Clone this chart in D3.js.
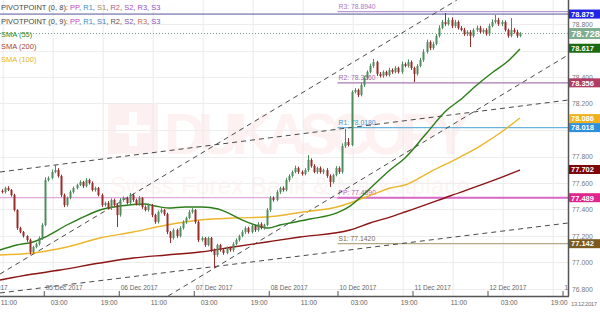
<!DOCTYPE html>
<html>
<head>
<meta charset="utf-8">
<script src="https://cdn.jsdelivr.net/npm/d3@7"></script>
<style>
  body { margin: 0; background: #fff; }
  svg { display: block; font-family: "Liberation Sans", Arial, sans-serif; }
</style>
</head>
<body>
<svg id="chart" width="600" height="320"></svg>
<script>
// hourly closes, USD/JPY-like series
const firstOpen = 77.540;
const closes = [
  77.532, 77.562, 77.547, 77.509, 77.396, 77.260, 77.230, 77.200, 77.170, 77.079,
  77.117, 77.140, 77.185, 77.283, 77.623, 77.638, 77.683, 77.698, 77.653, 77.509,
  77.434, 77.487, 77.532, 77.562, 77.585, 77.608, 77.577, 77.623, 77.600, 77.547,
  77.562, 77.509, 77.434, 77.449, 77.411, 77.472, 77.434, 77.358, 77.472, 77.487,
  77.449, 77.509, 77.472, 77.441, 77.487, 77.419, 77.396, 77.434, 77.358, 77.306,
  77.381, 77.396, 77.366, 77.230, 77.185, 77.245, 77.200, 77.260, 77.306, 77.336,
  77.381, 77.396, 77.306, 77.170, 77.185, 77.132, 77.185, 77.094, 77.057, 77.132,
  77.094, 77.072, 77.109, 77.094, 77.140, 77.170, 77.200, 77.230, 77.260, 77.230,
  77.275, 77.245, 77.291, 77.260, 77.283, 77.396, 77.487, 77.472, 77.532, 77.562,
  77.547, 77.623, 77.653, 77.683, 77.713, 77.683, 77.668, 77.698, 77.774, 77.728,
  77.683, 77.713, 77.683, 77.698, 77.653, 77.608, 77.660, 77.713, 77.683, 77.879,
  77.909, 77.887, 78.287, 78.302, 78.264, 78.340, 78.392, 78.438, 78.483, 78.513,
  78.423, 78.408, 78.438, 78.415, 78.453, 78.438, 78.468, 78.438, 78.498, 78.483,
  78.513, 78.468, 78.423, 78.483, 78.528, 78.589, 78.664, 78.619, 78.649, 78.710,
  78.770, 78.815, 78.800, 78.830, 78.785, 78.815, 78.770, 78.755, 78.725, 78.740,
  78.710, 78.755, 78.770, 78.740, 78.755, 78.725, 78.785, 78.815, 78.830, 78.800,
  78.815, 78.755, 78.710, 78.755, 78.740, 78.710, 78.728
];
// wick lengths above / below the body, in thousandths
const wickUp = [
  12, 10, 14, 8, 10, 6, 10, 8, 6, 10,
  8, 10, 12, 14, 20, 12, 18, 38, 14, 10,
  12, 10, 14, 12, 10, 12, 8, 14, 10, 12,
  10, 8, 12, 10, 14, 12, 10, 8, 14, 12,
  10, 16, 12, 10, 14, 8, 12, 10, 8, 10,
  12, 14, 8, 10, 8, 12, 10, 14, 12, 10,
  16, 14, 8, 10, 12, 8, 10, 8, 12, 10,
  8, 10, 12, 10, 14, 12, 10, 14, 12, 10,
  12, 10, 14, 12, 10, 14, 16, 12, 14, 10,
  12, 16, 14, 12, 18, 10, 12, 14, 37, 12,
  14, 10, 12, 10, 14, 12, 10, 14, 12, 20,
  100, 30, 12, 14, 10, 16, 14, 12, 18, 24,
  10, 14, 12, 10, 16, 12, 14, 10, 18, 12,
  20, 12, 10, 14, 16, 20, 18, 12, 16, 14,
  20, 16, 68, 18, 20, 16, 12, 14, 16, 12,
  14, 12, 18, 16, 12, 14, 18, 20, 38, 16,
  14, 12, 10, 90, 14, 16, 10
];
const wickDn = [
  10, 12, 8, 12, 10, 14, 10, 12, 14, 20,
  14, 10, 12, 14, 10, 12, 10, 8, 12, 14,
  16, 12, 10, 12, 10, 8, 14, 10, 12, 10,
  12, 10, 14, 12, 10, 14, 12, 90, 12, 14,
  10, 12, 14, 10, 12, 14, 10, 12, 16, 14,
  12, 10, 14, 16, 38, 12, 14, 10, 12, 14,
  10, 12, 14, 16, 12, 14, 10, 16, 99, 14,
  12, 14, 10, 12, 14, 10, 12, 10, 14, 12,
  10, 14, 12, 10, 12, 10, 14, 12, 10, 14,
  12, 10, 14, 12, 10, 14, 12, 10, 14, 12,
  10, 14, 12, 16, 14, 38, 12, 10, 14, 12,
  14, 12, 10, 12, 16, 10, 14, 12, 10, 14,
  16, 12, 14, 10, 12, 14, 10, 12, 14, 10,
  12, 14, 61, 12, 10, 14, 12, 16, 14, 10,
  12, 10, 14, 12, 16, 14, 12, 10, 14, 16,
  84, 12, 14, 10, 16, 12, 14, 10, 12, 14,
  16, 12, 14, 10, 12, 14, 10
];

// moving averages: [hour slot, value]
const sma55 = [
  [0, 77.094], [5.4, 77.132], [10.6, 77.155], [13.8, 77.185], [21.4, 77.283],
  [26.6, 77.343], [32, 77.396], [38.4, 77.426], [46.4, 77.442], [49.6, 77.426],
  [53.8, 77.411], [59.2, 77.419], [64.6, 77.419], [69.8, 77.404], [73, 77.374],
  [77.4, 77.321], [81.6, 77.283], [85.8, 77.260], [89.6, 77.283], [92.8, 77.298],
  [99.2, 77.328], [107.8, 77.374], [112, 77.426], [116.2, 77.509], [120.6, 77.608],
  [124.8, 77.698], [129.6, 77.789], [136, 77.962], [143, 78.151], [147.2, 78.226],
  [152.6, 78.340], [157.8, 78.438], [162.2, 78.513], [166.4, 78.611]
];
const sma100 = [
  [0, 77.057], [10.6, 77.072], [21.4, 77.117], [32, 77.185], [42.6, 77.230],
  [53.4, 77.283], [64, 77.321], [74.6, 77.336], [85.4, 77.343], [97, 77.381],
  [107.8, 77.419], [112, 77.449], [116.2, 77.487], [120.6, 77.525], [124.8, 77.562],
  [129.6, 77.585], [137.6, 77.683], [147.2, 77.796], [153.6, 77.879], [160, 77.977],
  [166.4, 78.091]
];
const sma200 = [
  [0, 76.868], [10.6, 76.913], [19.2, 76.943], [32, 76.996], [42.6, 77.034],
  [53.4, 77.057], [64, 77.079], [74.6, 77.117], [85.4, 77.155], [96, 77.192],
  [112, 77.245], [118.4, 77.298], [124.8, 77.343], [129.6, 77.381], [144, 77.502],
  [160, 77.638], [166.4, 77.698]
];

// dashed trend channel lines, two anchors each
const trendLines = [
  [[0, 76.913], [146.2, 78.981]],
  [[53.8, 76.747], [181.76, 78.566]],
  [[0, 77.683], [181.76, 78.226]],
  [[0, 76.770], [181.76, 77.298]]
];

const pivotNames = ['R3', 'R2', 'R1', 'PP', 'S1'];
const pivotValues = [78.894, 78.356, 78.018, 77.489, 77.142];
const pivotLabels = ['R3: 78.8940', 'R2: 78.3560', 'R1: 78.0180', 'PP: 77.4890', 'S1: 77.1420'];
const pivotStart = 108;
const prevHigh = 78.875;
const prevPP = 77.489;
const lastPrice = 78.728;

const priceTicks = [76.8, 77.0, 77.2, 77.4, 77.6, 77.8, 78.0, 78.2, 78.4, 78.6, 78.8];
const timeSlots = [1, 17, 33, 49, 65, 81, 97, 113, 129, 145, 161, 177];
const timeLabels = ['11:00', '03:00', '19:00', '11:00', '03:00', '19:00',
                    '11:00', '03:00', '19:00', '11:00', '03:00', '19:00'];
const dateSlots = [-10, 14, 38, 62, 86, 108, 132, 156, 180];
const dateLabels = ['04 Dec 2017', '05 Dec 2017', '06 Dec 2017', '07 Dec 2017', '08 Dec 2017',
                    '10 Dec 2017', '11 Dec 2017', '12 Dec 2017', '13 Dec 2017'];

const markerValues = [78.875, 78.728, 78.617, 78.356, 78.086, 78.018, 77.702, 77.489, 77.142];

const legendPivot8 = ['PP', 'R1', 'S1', 'R2', 'S2', 'R3', 'S3'];
const legendPivot9 = ['PP', 'R1', 'S1', 'R2', 'S2', 'R3', 'S3'];
const legendSma = ['SMA (55)', 'SMA (200)', 'SMA (100)'];

// ---- layout
const W = 600, H = 320;
const plotW = 568, plotH = 296;

const svg = d3.select('#chart');

const x = d3.scaleLinear().domain([0, 181.76]).range([0, plotW]);
const y = d3.scaleLinear().domain([76.8, 78.8]).range([289, 24]);

const candles = closes.map((c, i) => {
  const o = i === 0 ? firstOpen : closes[i - 1];
  return {
    i: i, o: o, c: c,
    h: Math.max(o, c) + wickUp[i] / 1000,
    l: Math.min(o, c) - wickDn[i] / 1000
  };
});

svg.append('defs').append('clipPath').attr('id', 'plotClip')
  .append('rect').attr('x', 0).attr('y', 0).attr('width', plotW).attr('height', plotH);

// watermark (very faint)
const wm = svg.append('g').attr('class', 'watermark');
wm.append('rect').attr('x', 108).attr('y', 104).attr('width', 50).attr('height', 50).attr('fill', '#fdf0f0');
wm.append('rect').attr('x', 129).attr('y', 112).attr('width', 8).attr('height', 34).attr('fill', '#fff');
wm.append('rect').attr('x', 116).attr('y', 125).attr('width', 34).attr('height', 8).attr('fill', '#fff');
wm.append('text').attr('x', 164).attr('y', 154).attr('font-size', 58).attr('font-weight', 'bold')
  .attr('textLength', 306).attr('fill', '#fdf1f1').text('DUKASCOPY');
wm.append('text').attr('x', 110).attr('y', 194).attr('font-size', 24)
  .attr('textLength', 360).attr('fill', '#fdf4f4').text('Swiss Forex Bank & Marketplace');

// grid
const grid = svg.append('g').attr('class', 'grid');
grid.selectAll('.vgrid').data(timeSlots).enter().append('line')
  .attr('x1', d => x(d)).attr('x2', d => x(d))
  .attr('y1', 0).attr('y2', plotH)
  .attr('stroke', '#ebebeb').attr('stroke-width', 1);
grid.selectAll('.hgrid').data(priceTicks).enter().append('line')
  .attr('x1', 0).attr('x2', plotW)
  .attr('y1', d => Math.round(y(d)) + 0.5).attr('y2', d => Math.round(y(d)) + 0.5)
  .attr('stroke', '#ededed').attr('stroke-width', 1);

const plot = svg.append('g').attr('clip-path', 'url(#plotClip)');

// horizontal levels spanning the whole width
plot.append('line')
  .attr('x1', 0).attr('x2', plotW)
  .attr('y1', y(prevPP)).attr('y2', y(prevPP))
  .attr('stroke', '#d894d4').attr('stroke-width', 1);
plot.append('line')
  .attr('x1', 0).attr('x2', plotW)
  .attr('y1', y(prevHigh)).attr('y2', y(prevHigh))
  .attr('stroke', '#55559a').attr('stroke-width', 1);

// pivot levels
const pivotColors = ['#b79bd0', '#a979b5', '#6cb3dc', '#d66bc8', '#b5a887'];
const pivotTextColors = ['#a77bc8', '#a06aac', '#3f9bd0', '#b95fb0', '#7a6a50'];
const pv = plot.selectAll('.pivot').data(pivotValues).enter().append('g').attr('class', 'pivot');
pv.append('line')
  .attr('x1', x(pivotStart)).attr('x2', plotW)
  .attr('y1', d => y(d)).attr('y2', d => y(d))
  .attr('stroke', (d, i) => pivotColors[i])
  .attr('stroke-width', (d, i) => pivotNames[i] === 'PP' ? 2 : 1.2);
pv.append('text')
  .attr('x', x(pivotStart) + 1).attr('y', d => y(d) - 2.5)
  .attr('font-size', 6.8).attr('fill', (d, i) => pivotTextColors[i])
  .text((d, i) => pivotLabels[i]);

// trend channel
plot.selectAll('.trend').data(trendLines).enter().append('line')
  .attr('x1', d => x(d[0][0])).attr('y1', d => y(d[0][1]))
  .attr('x2', d => x(d[1][0])).attr('y2', d => y(d[1][1]))
  .attr('stroke', '#4a4a4a').attr('stroke-width', 1)
  .attr('stroke-dasharray', '5,4');

// moving averages
const maLine = d3.line().x(d => x(d[0])).y(d => y(d[1])).curve(d3.curveMonotoneX);
plot.append('path').datum(sma200).attr('d', maLine)
  .attr('fill', 'none').attr('stroke', '#8b1414').attr('stroke-width', 1.4);
plot.append('path').datum(sma100).attr('d', maLine)
  .attr('fill', 'none').attr('stroke', '#edb62a').attr('stroke-width', 1.4);
plot.append('path').datum(sma55).attr('d', maLine)
  .attr('fill', 'none').attr('stroke', '#2a7d16').attr('stroke-width', 1.4);

// last price dotted line
plot.append('line')
  .attr('x1', 0).attr('x2', plotW)
  .attr('y1', y(lastPrice)).attr('y2', y(lastPrice))
  .attr('stroke', '#6f9f80').attr('stroke-width', 1)
  .attr('stroke-dasharray', '1,2');

// candles
const bull = '#4f8d5f', bear = '#9c2b2b';
const cg = plot.selectAll('.candle').data(candles).enter().append('g').attr('class', 'candle');
cg.append('line')
  .attr('x1', d => Math.round(x(d.i + 0.5)) + 0.5).attr('x2', d => Math.round(x(d.i + 0.5)) + 0.5)
  .attr('y1', d => y(d.h)).attr('y2', d => y(d.l))
  .attr('stroke', d => d.c >= d.o ? bull : bear).attr('stroke-width', 1);
cg.append('rect')
  .attr('x', d => Math.round(x(d.i + 0.5)) - 0.5)
  .attr('width', 2)
  .attr('y', d => y(Math.max(d.o, d.c)))
  .attr('height', d => Math.max(1, Math.abs(y(d.o) - y(d.c))))
  .attr('fill', d => d.c >= d.o ? bull : bear);

// date ticks inside plot
const dg = svg.append('g').attr('class', 'dates');
dg.selectAll('line').data(dateSlots).enter().append('line')
  .attr('x1', d => x(d) + 0.5).attr('x2', d => x(d) + 0.5)
  .attr('y1', plotH - 5).attr('y2', plotH)
  .attr('stroke', '#555');
dg.selectAll('text').data(dateSlots).enter().append('text')
  .attr('x', d => x(d) + 2).attr('y', plotH - 6)
  .attr('font-size', 6.5).attr('fill', '#666')
  .text((d, i) => dateLabels[i]);

// time axis
const xAxis = d3.axisBottom(x).tickValues(timeSlots)
  .tickFormat((d, i) => timeLabels[i]).tickSize(0).tickPadding(4);
const xg = svg.append('g').attr('transform', 'translate(0,' + plotH + ')').call(xAxis);
xg.select('.domain').remove();
xg.selectAll('text').attr('text-anchor', 'start').attr('dx', -3)
  .attr('font-size', 6.8).attr('fill', '#666')
  .attr('font-family', '"Liberation Sans", Arial, sans-serif');

// right axis panel; tick labels hidden where a value marker sits on top
svg.append('rect').attr('x', plotW + 1).attr('y', 0).attr('width', W - plotW).attr('height', plotH)
  .attr('fill', '#fff');
const visibleTicks = priceTicks.filter(t => !markerValues.some(m => Math.abs(y(m) - y(t)) < 5));
const yAxis = d3.axisRight(y).tickValues(visibleTicks).tickFormat(d3.format('.3f'))
  .tickSize(0).tickPadding(4);
const yg = svg.append('g').attr('transform', 'translate(' + plotW + ',0)').call(yAxis);
yg.select('.domain').remove();
yg.selectAll('text').attr('font-size', 6.8).attr('fill', '#777')
  .attr('font-family', '"Liberation Sans", Arial, sans-serif');

svg.append('text').attr('x', plotW + 3).attr('y', 306)
  .attr('font-size', 6).attr('textLength', 26).attr('fill', '#777').text('13.12.2017');

// frame
svg.append('line').attr('x1', plotW + 0.5).attr('x2', plotW + 0.5).attr('y1', 0).attr('y2', plotH)
  .attr('stroke', '#555').attr('stroke-width', 1.5);
svg.append('line').attr('x1', 0).attr('x2', plotW + 1).attr('y1', plotH + 0.5).attr('y2', plotH + 0.5)
  .attr('stroke', '#555').attr('stroke-width', 1.5);

// value markers on the price axis
const markerColors = ['#2323e8', '#7fae8e', '#1c6b12', '#b03b63', '#efb21f', '#2e8fdc', '#7d0606', '#e0258c', '#7b5b22'];
const mk = svg.selectAll('.marker').data(markerValues).enter().append('g').attr('class', 'marker');
mk.append('rect')
  .attr('x', plotW + 1).attr('width', W - plotW - 1)
  .attr('y', d => y(d) - (d === lastPrice ? 5.5 : 4.5))
  .attr('height', d => d === lastPrice ? 11 : 9)
  .attr('fill', (d, i) => markerColors[i]);
mk.append('text')
  .attr('x', plotW + 3).attr('y', d => y(d) + (d === lastPrice ? 3.5 : 2.8))
  .attr('font-size', d => d === lastPrice ? 9.5 : 7.5)
  .attr('font-weight', 'bold').attr('fill', '#fff')
  .text(d => d3.format('.3f')(d));

// legend
const lg = svg.append('g').attr('class', 'legend').attr('font-size', 7.5);
const pivot8Colors = ['#c23fc0', '#3a8fd0', '#a08a50', '#b06080', '#a050c0', '#9a50c8', '#9050c0'];
const pivot9Colors = ['#c23fc0', '#3a8fd0', '#4d79c0', '#555', '#8050b0', '#d06a40', '#8050c0'];
const legendRow = (yy, title, names, colors) => {
  const t = lg.append('text').attr('x', 1).attr('y', yy).attr('fill', '#444');
  t.append('tspan').text(title);
  names.forEach((n, i) => {
    t.append('tspan').attr('fill', colors[i]).text(n);
    if (i < names.length - 1) t.append('tspan').attr('fill', '#444').text(', ');
  });
};
legendRow(9.5, 'PIVOTPOINT (0, 8): ', legendPivot8, pivot8Colors);
legendRow(24, 'PIVOTPOINT (0, 9): ', legendPivot9, pivot9Colors);
const smaColors = ['#2f8a2a', '#a84444', '#e6b428'];
lg.selectAll('.sma').data(legendSma).enter().append('text')
  .attr('x', 1).attr('y', (d, i) => 36.5 + i * 12.5)
  .attr('fill', (d, i) => smaColors[i]).text(d => d);
</script>
</body>
</html>
